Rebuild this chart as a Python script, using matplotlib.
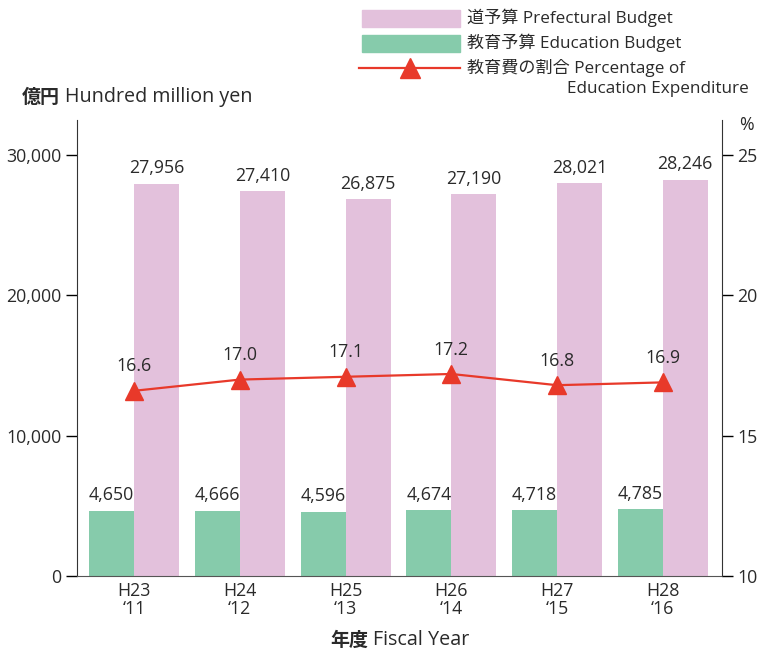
import matplotlib
matplotlib.use("Agg")
import matplotlib.pyplot as plt
from matplotlib.patches import Rectangle
from matplotlib.lines import Line2D
import numpy as np

plt.rcParams['font.family'] = ['Open Sans', 'Noto Sans CJK JP', 'DejaVu Sans']

years = ["H23\n\u201811", "H24\n\u201812", "H25\n\u201813", "H26\n\u201814", "H27\n\u201815", "H28\n\u201816"]
pref_budget = [27956, 27410, 26875, 27190, 28021, 28246]
edu_budget = [4650, 4666, 4596, 4674, 4718, 4785]
edu_pct = [16.6, 17.0, 17.1, 17.2, 16.8, 16.9]

PINK = '#e3c1dc'
GREEN = '#86cbab'
RED = '#e8392a'
TXT = '#2a2a2a'
FS = 12.8
FL = 12.3
FT = 14.2

fig = plt.figure(figsize=(7.58, 6.5), dpi=100)
ax = fig.add_axes([0.1016, 0.1138, 0.8509, 0.7016])
ax2 = ax.twinx()

x = np.arange(len(years))
w = 0.425
ax.bar(x - w/2, edu_budget, width=w, color=GREEN, zorder=2)
ax.bar(x + w/2, pref_budget, width=w, color=PINK, zorder=2)
for xi, v in zip(x, edu_budget):
    ax.text(xi - w/2, v + 450, f"{v:,}", ha='center', va='bottom', fontsize=FS, color=TXT)
for xi, v in zip(x, pref_budget):
    ax.text(xi + w/2, v + 450, f"{v:,}", ha='center', va='bottom', fontsize=FS, color=TXT)

ax.set_xlim(-0.54, 5.56)
ax.set_ylim(0, 32500)
ax.set_yticks([0, 10000, 20000, 30000])
ax.set_yticklabels(["0", "10,000", "20,000", "30,000"])
ax.set_xticks(x)
ax.set_xticklabels(years, fontsize=FS, color=TXT, linespacing=1.0)
ax.tick_params(axis='x', length=0, pad=4)
ax.tick_params(axis='y', direction='out', length=8, labelsize=FS, labelcolor=TXT, width=1, pad=3)
for s in ['top', 'right']:
    ax.spines[s].set_visible(False)
ax.spines['left'].set_color('#333333')
ax.spines['bottom'].set_color('#555555')

ax2.plot(x, edu_pct, color=RED, lw=1.6, marker='^', markersize=13, zorder=5)
for xi, v in zip(x, edu_pct):
    ax2.text(xi, v + 0.55, f"{v:.1f}", ha='center', va='bottom', fontsize=FS, color=TXT)
ax2.set_ylim(10, 26.25)
ax2.set_yticks([10, 15, 20, 25])
ax2.tick_params(axis='y', direction='out', length=8, labelsize=FS, labelcolor=TXT, width=1, pad=3)
for s in ['top', 'left', 'bottom']:
    ax2.spines[s].set_visible(False)
ax2.spines['right'].set_color('#333333')
ax2.set_zorder(ax.get_zorder() + 1)
ax2.patch.set_visible(False)

def fx(px): return px / 758
def fy(py): return 1 - py / 650

fig.text(fx(746), fy(125), "%", ha='center', va='center', fontsize=FS, color=TXT)
fig.text(fx(22), fy(97), "億円", ha='left', va='center', fontsize=FT - 0.5, color=TXT, fontweight='bold',
         family='Noto Sans CJK JP')
fig.text(fx(65), fy(97), "Hundred million yen", ha='left', va='center', fontsize=FT, color=TXT)
fig.text(fx(330), fy(640), "年度", ha='left', va='center', fontsize=FT - 0.5, color=TXT, fontweight='bold',
         family='Noto Sans CJK JP')
fig.text(fx(373), fy(640), "Fiscal Year", ha='left', va='center', fontsize=FT, color=TXT)

# legend (manual)
fig.add_artist(Rectangle((fx(362), fy(27)), fx(460) - fx(362), 17/650, transform=fig.transFigure, color=PINK))
fig.add_artist(Rectangle((fx(362), fy(52)), fx(460) - fx(362), 17/650, transform=fig.transFigure, color=GREEN))
fig.add_artist(Line2D([fx(359), fx(460)], [fy(68), fy(68)], transform=fig.transFigure, color=RED, lw=1.6))
fig.add_artist(Line2D([fx(410)], [fy(68)], transform=fig.transFigure, color=RED, marker='^', markersize=14, lw=0))
fig.text(fx(467), fy(18), "道予算 Prefectural Budget", ha='left', va='center', fontsize=FL, color=TXT)
fig.text(fx(467), fy(43), "教育予算 Education Budget", ha='left', va='center', fontsize=FL, color=TXT)
fig.text(fx(467), fy(68), "教育費の割合 Percentage of", ha='left', va='center', fontsize=FL, color=TXT)
fig.text(fx(567), fy(89), "Education Expenditure", ha='left', va='center', fontsize=FL, color=TXT)

fig.savefig("out.png", dpi=100)
